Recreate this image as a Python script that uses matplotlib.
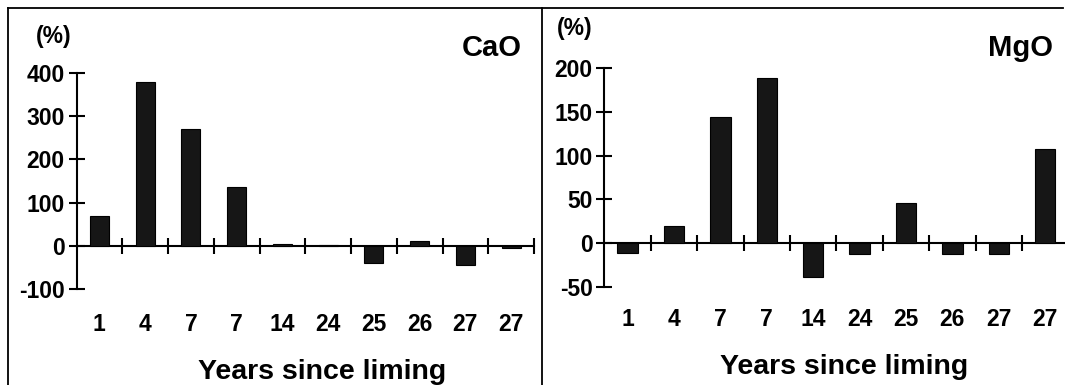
import matplotlib
matplotlib.use('Agg')
import matplotlib.pyplot as plt
from matplotlib.lines import Line2D

plt.rcParams['font.family'] = ['Liberation Sans', 'DejaVu Sans']
plt.rcParams['font.weight'] = 'bold'
plt.rcParams['axes.unicode_minus'] = False

years = ['1', '4', '7', '7', '14', '24', '25', '26', '27', '27']
cao = [68, 379, 270, 135, 5, 3, -40, 10, -44, -5]
mgo = [-11, 20, 144, 189, -39, -13, 46, -12, -12, 108]

W, H = 1065, 385
fig = plt.figure(figsize=(W / 100, H / 100), dpi=100)


def px(x, y):
    return x / W, 1 - y / H


def panel(rect, values, ylim, yticks, bar_w, label_pad):
    ax = fig.add_axes(rect)
    n = len(values)
    xs = list(range(n))
    ax.bar(xs, values, width=bar_w, color='#161616', edgecolor='black', linewidth=0.8, zorder=3)
    ax.set_xlim(-0.5, n - 0.5)
    ax.set_ylim(*ylim)
    for s in ['top', 'right']:
        ax.spines[s].set_visible(False)
    ax.spines['bottom'].set_position(('data', 0))
    for s in ['left', 'bottom']:
        ax.spines[s].set_linewidth(1.5)
    ax.set_yticks(yticks)
    ax.tick_params(axis='y', direction='inout', length=11, width=1.5,
                   labelsize=16.5, pad=3)
    # boundary ticks on the zero line
    ax.set_xticks([i + 0.5 for i in xs])
    ax.set_xticklabels([])
    ax.tick_params(axis='x', which='major', direction='inout', length=12, width=1.5)
    # category labels far below the zero line
    ax.set_xticks(xs, years, minor=True)
    ax.tick_params(axis='x', which='minor', length=0, labelsize=16.5, pad=label_pad)
    for lab in ax.get_xticklabels(minor=True) + ax.get_yticklabels():
        lab.set_fontweight('bold')
    ax.patch.set_visible(False)
    return ax


panel([76.5 / W, 1 - 289 / H, 457.5 / W, 216 / H], cao, (-100, 400),
      [-100, 0, 100, 200, 300, 400], 0.42, 48.5)
panel([604.4 / W, 1 - 286.7 / H, 464 / W, 218.4 / H], mgo, (-50, 200),
      [-50, 0, 50, 100, 150, 200], 0.44, 46.5)

# frame
frame_kw = dict(color='black', linewidth=1.3, transform=fig.transFigure)
fig.add_artist(Line2D([8 / W, 8 / W], [0, 1 - 8 / H], **frame_kw))
fig.add_artist(Line2D([8 / W, 1063 / W], [1 - 8 / H, 1 - 8 / H], **frame_kw))
fig.add_artist(Line2D([541.5 / W, 541.5 / W], [0, 1 - 8 / H], **frame_kw))

fig.text(*px(53.5, 36), '(%)', ha='center', va='center', fontsize=16.5, fontweight='bold')
fig.text(*px(575, 29), '(%)', ha='center', va='center', fontsize=16.5, fontweight='bold')
fig.text(*px(492, 48), 'CaO', ha='center', va='center', fontsize=21, fontweight='bold')
fig.text(*px(1020.5, 48), 'MgO', ha='center', va='center', fontsize=21, fontweight='bold')
fig.text(*px(322, 379), 'Years since liming', ha='center', va='baseline',
         fontsize=20.5, fontweight='bold')
fig.text(*px(844, 374), 'Years since liming', ha='center', va='baseline',
         fontsize=20.5, fontweight='bold')

fig.savefig('out.png', dpi=100)
